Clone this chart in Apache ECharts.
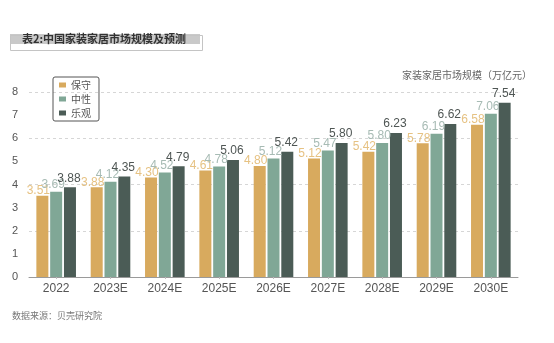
<!DOCTYPE html>
<html>
<head>
<meta charset="utf-8">
<script src="https://cdn.jsdelivr.net/npm/echarts@6/dist/echarts.min.js"></script>
<style>
  html, body { margin: 0; padding: 0; background: #ffffff; }
  #chart { width: 554px; height: 343px; }
</style>
</head>
<body>
<div id="chart"></div>
<script>
// 中国家装家居市场规模（万亿元）
const years = ['2022', '2023E', '2024E', '2025E', '2026E', '2027E', '2028E', '2029E', '2030E'];
const conservative = [3.51, 3.88, 4.30, 4.61, 4.80, 5.12, 5.42, 5.78, 6.58];
const neutral = [3.69, 4.12, 4.52, 4.78, 5.12, 5.47, 5.80, 6.19, 7.06];
const optimistic = [3.88, 4.35, 4.79, 5.06, 5.42, 5.80, 6.23, 6.62, 7.54];
const seriesNames = ['保守', '中性', '乐观'];

const FONT = '"Liberation Sans", "Noto Sans CJK SC", sans-serif';
const CJK = '"Noto Sans CJK SC", sans-serif';
const barColors = ['#d8aa5e', '#80a796', '#4b5c56'];
const labelColors = ['#e6c283', '#a7bbb4', '#4f5654'];
const labelOffsets = [[-4, 4], [-3, 2], [-1, 0]];

const chart = echarts.init(document.getElementById('chart'), null, { renderer: 'canvas' });

function barSeries(i, data) {
  return {
    name: seriesNames[i],
    type: 'bar',
    data: data,
    barWidth: 12,
    barGap: '15%',
    itemStyle: { color: barColors[i] },
    label: {
      show: true,
      position: 'top',
      distance: 3,
      offset: labelOffsets[i],
      color: labelColors[i],
      fontSize: 12,
      fontFamily: FONT,
      formatter: p => p.value.toFixed(2)
    }
  };
}

chart.setOption({
  backgroundColor: '#ffffff',
  animation: false,
  textStyle: { fontFamily: FONT },
  grid: { left: 29, right: 36, top: 92, bottom: 66 },
  legend: {
    orient: 'vertical',
    left: 53,
    top: 77,
    data: seriesNames,
    icon: 'rect',
    itemWidth: 7,
    itemHeight: 5,
    itemGap: 4,
    padding: [3, 8, 3, 6],
    borderColor: '#555',
    borderWidth: 1,
    borderRadius: 2,
    textStyle: { fontSize: 10, color: '#555', lineHeight: 10, fontFamily: CJK }
  },
  xAxis: {
    type: 'category',
    data: years,
    axisLine: { lineStyle: { color: '#9a9a9a', width: 1 } },
    axisTick: { show: true, alignWithLabel: true, length: 2, lineStyle: { color: '#bbb' } },
    axisLabel: { color: '#555', fontSize: 12, margin: 6, fontFamily: FONT }
  },
  yAxis: [
    {
      type: 'value',
      min: 0,
      max: 8,
      interval: 1,
      axisLine: { show: false },
      axisTick: { show: false },
      splitLine: { show: false },
      axisLabel: { color: '#555', fontSize: 11, margin: 11, fontFamily: FONT }
    },
    {
      type: 'value',
      min: 0,
      max: 8,
      interval: 2,
      position: 'left',
      axisLine: { show: false },
      axisTick: { show: false },
      axisLabel: { show: false },
      splitLine: { show: true, lineStyle: { color: '#d6d6d6', type: [3, 3], width: 1 } }
    }
  ],
  series: [
    barSeries(0, conservative),
    barSeries(1, neutral),
    barSeries(2, optimistic)
  ],
  graphic: [
    { type: 'rect', shape: { x: 10, y: 34, width: 190, height: 10 }, style: { fill: '#c9c9c9' }, z: 0 },
    { type: 'rect', shape: { x: 10.5, y: 35.5, width: 192, height: 15 }, style: { fill: null, stroke: '#c4c4c4', lineWidth: 1 }, z: 1 },
    {
      type: 'text', x: 22, y: 39, z: 2,
      style: { text: '表2:中国家装家居市场规模及预测', fill: '#333', font: 'bold 11px ' + CJK, verticalAlign: 'middle' }
    },
    {
      type: 'text', x: 402, y: 75,
      style: { text: '家装家居市场规模（万亿元）', fill: '#666', font: '10px ' + CJK, verticalAlign: 'middle' }
    },
    {
      type: 'text', x: 12, y: 316,
      style: { text: '数据来源：贝壳研究院', fill: '#777', font: '9px ' + CJK, verticalAlign: 'middle' }
    }
  ]
});
</script>
</body>
</html>
